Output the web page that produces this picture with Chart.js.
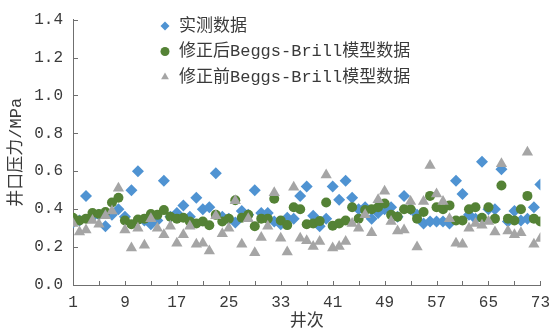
<!DOCTYPE html>
<html>
<head>
<meta charset="utf-8">
<script src="https://cdn.jsdelivr.net/npm/chart.js@4.4.0/dist/chart.umd.min.js"></script>
<style>
  html, body { margin: 0; padding: 0; background: #fff; }
</style>
</head>
<body>
<canvas id="grafico" width="558" height="328"></canvas>
<script>
// 实测数据 (井次 1..73)
const shice = [
  0.33, 0.34, 0.47, 0.36, 0.37, 0.31, 0.37, 0.40, 0.36, 0.50,
  0.60, 0.34, 0.32, 0.34, 0.55, 0.36, 0.38, 0.42, 0.36, 0.46,
  0.40, 0.41, 0.59, 0.36, 0.35, 0.33, 0.39, 0.37, 0.50, 0.38,
  0.38, 0.335, 0.32, 0.355, 0.35, 0.47, 0.52, 0.365, 0.31, 0.35,
  0.52, 0.45, 0.55, 0.46, 0.40, 0.41, 0.35, 0.38, 0.40, 0.41,
  0.36, 0.47, 0.40, 0.37, 0.325, 0.335, 0.335, 0.335, 0.325, 0.55,
  0.48, 0.37, 0.35, 0.65, 0.40, 0.40, 0.61, 0.335, 0.39, 0.34,
  0.35, 0.41, 0.53
];
// 修正后Beggs-Brill模型数据
const xiuzhengHou = [
  0.355, 0.34, 0.35, 0.38, 0.375, 0.385, 0.435, 0.46, 0.34, 0.32,
  0.345, 0.35, 0.375, 0.37, 0.395, 0.36, 0.35, 0.355, 0.335, 0.325,
  0.335, 0.315, 0.37, 0.335, 0.35, 0.447, 0.355, 0.37, 0.31, 0.35,
  0.35, 0.455, 0.34, 0.316, 0.41, 0.40, 0.32, 0.325, 0.337, 0.435,
  0.313, 0.325, 0.34, 0.41, 0.35, 0.395, 0.40, 0.41, 0.43, 0.37,
  0.36, 0.40, 0.40, 0.35, 0.385, 0.47, 0.41, 0.40, 0.42, 0.34,
  0.34, 0.40, 0.41, 0.355, 0.41, 0.35, 0.525, 0.35, 0.34, 0.40,
  0.47, 0.35, 0.335
];
// 修正前Beggs-Brill模型数据
const xiuzhengQian = [
  0.325, 0.28, 0.29, 0.34, 0.32, 0.365, 0.39, 0.51, 0.29, 0.195,
  0.30, 0.21, 0.35, 0.30, 0.265, 0.31, 0.22, 0.265, 0.31, 0.215,
  0.22, 0.18, 0.365, 0.27, 0.30, 0.445, 0.215, 0.35, 0.17, 0.25,
  0.31, 0.487, 0.247, 0.174, 0.516, 0.247, 0.233, 0.203, 0.23, 0.58,
  0.195, 0.203, 0.23, 0.325, 0.30, 0.37, 0.275, 0.45, 0.495, 0.335,
  0.285, 0.29, 0.44, 0.20, 0.44, 0.63, 0.48, 0.44, 0.35, 0.22,
  0.215, 0.30, 0.325, 0.315, 0.335, 0.28, 0.64, 0.285, 0.265, 0.275,
  0.70, 0.215, 0.245
];

const xTicks = [1, 5, 9, 13, 17, 21, 25, 29, 33, 37, 41, 45, 49, 53, 57, 61, 65, 69, 73];
const xLabels = [1, 9, 17, 25, 33, 41, 49, 57, 65, 73];

const series = [
  { nombre: '实测数据', datos: shice, color: '#4f93d2', estilo: 'rectRot', radio: 6, orden: 3 },
  { nombre: '修正后Beggs-Brill模型数据', datos: xiuzhengHou, color: '#548235', estilo: 'circle', radio: 5, orden: 2 },
  { nombre: '修正前Beggs-Brill模型数据', datos: xiuzhengQian, color: '#a5a5a5', estilo: 'triangle', radio: 6.5, orden: 1 }
];

const fuente = "'Liberation Mono', 'Noto Sans CJK SC', monospace";
const colorTexto = '#3a3a3a';
const colorEje = '#6f6f6f';

// ticks hacia dentro y leyenda dentro del area
const extras = {
  id: 'extras',
  afterDraw(chart) {
    const ctx = chart.ctx;
    const a = chart.chartArea;
    const sx = chart.scales.x, sy = chart.scales.y;
    ctx.save();
    ctx.strokeStyle = colorEje;
    ctx.lineWidth = 1;
    ctx.beginPath();
    sx.ticks.forEach(t => {
      const px = Math.round(sx.getPixelForValue(t.value)) + 0.5;
      ctx.moveTo(px, a.bottom);
      ctx.lineTo(px, a.bottom - 4);
    });
    sy.ticks.forEach(t => {
      const py = Math.round(sy.getPixelForValue(t.value)) + 0.5;
      ctx.moveTo(a.left, py);
      ctx.lineTo(a.left + 5, py);
    });
    ctx.stroke();

    ctx.font = '17px ' + fuente;
    ctx.textBaseline = 'middle';
    ctx.textAlign = 'left';
    series.forEach((s, i) => {
      const y = 26 + i * 25.5;
      ctx.fillStyle = s.color;
      Chart.helpers.drawPoint(ctx, { pointStyle: s.estilo, radius: 4.5, borderWidth: 0, rotation: 0 }, 165, y);
      ctx.fillStyle = colorTexto;
      ctx.fillText(s.nombre, 179, y);
    });
    ctx.restore();
  }
};

const ctx = document.getElementById('grafico').getContext('2d');

new Chart(ctx, {
  type: 'scatter',
  data: {
    datasets: series.map(s => ({
      label: s.nombre,
      data: s.datos.map((v, i) => ({ x: i + 1, y: v })),
      backgroundColor: s.color,
      borderColor: s.color,
      borderWidth: 0,
      pointStyle: s.estilo,
      pointRadius: s.radio,
      order: s.orden
    }))
  },
  options: {
    responsive: false,
    animation: false,
    events: [],
    layout: { padding: { top: 16, right: 11, left: 0, bottom: 0 } },
    plugins: {
      legend: { display: false },
      tooltip: { enabled: false }
    },
    scales: {
      x: {
        type: 'linear',
        min: 1,
        max: 73,
        afterFit: s => { s.height = 43; },
        afterBuildTicks: s => { s.ticks = xTicks.map(v => ({ value: v })); },
        grid: { display: false, drawTicks: false },
        border: { display: true, color: colorEje, width: 1 },
        ticks: {
          autoSkip: false,
          maxRotation: 0,
          padding: 8,
          color: colorTexto,
          font: { family: fuente, size: 16 },
          callback: v => xLabels.includes(v) ? String(v) : ''
        },
        title: {
          display: true,
          text: '井次',
          color: colorTexto,
          font: { family: fuente, size: 17 },
          padding: { top: 0, bottom: -4 }
        }
      },
      y: {
        min: 0,
        max: 1.4,
        afterFit: s => { s.width = 73; },
        grid: { display: false, drawTicks: false },
        border: { display: true, color: colorEje, width: 1 },
        ticks: {
          stepSize: 0.2,
          padding: 10,
          color: colorTexto,
          font: { family: fuente, size: 16 },
          callback: v => Number(v).toFixed(1)
        },
        title: {
          display: true,
          text: '井口压力/MPa',
          color: colorTexto,
          font: { family: fuente, size: 17 },
          padding: { top: 6, bottom: 0 }
        }
      }
    }
  },
  plugins: [extras]
});
</script>
</body>
</html>
